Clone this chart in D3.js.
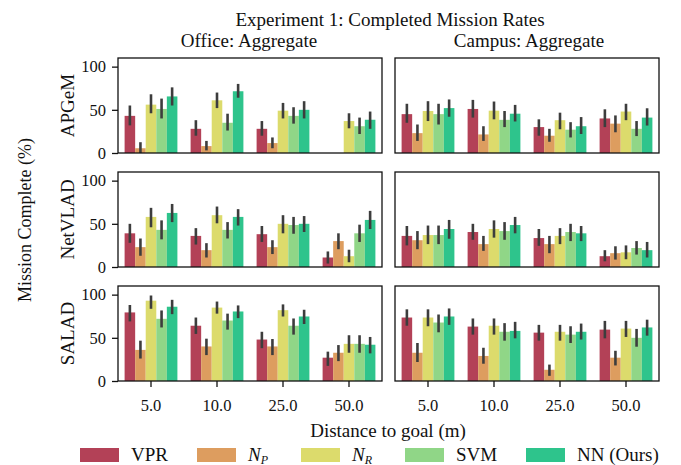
<!DOCTYPE html>
<html><head><meta charset="utf-8">
<script src="https://cdn.jsdelivr.net/npm/d3@7"></script>
<style>body{margin:0;background:#fff}svg{display:block}text{font-family:"Liberation Serif","DejaVu Serif",serif;fill:#111}</style>
</head><body><svg id="c" width="681" height="465"></svg>
<script>
const categories = ["5.0","10.0","25.0","50.0"];
const seriesNames = ["VPR","N_P","N_R","SVM","NN (Ours)"];
const seriesColors = ["#b34157","#dd9d5f","#dcdb6c","#90d687","#2ec48c"];
const rowLabels = ["APGeM","NetVLAD","SALAD"];
const colLabels = ["Office: Aggregate","Campus: Aggregate"];
const yTicks = [0,50,100];

// each array: one row per series (VPR, N_P, N_R, SVM, NN), one value per category
const apgemOfficeMean = [[43,28,28,0],[5.5,8,11.5,0],[56,61,49,37],[51,35,43,31],[65.5,71.5,50,38.5]];
const apgemOfficeLo   = [[32,20,20,0],[0,3,5.5,0],[46,52,40,28.6],[40,26,34,22],[55,64,40,28]];
const apgemOfficeHi   = [[55,38,37,0],[12.5,14,18,0],[68,70,58,46],[63,45.5,53,41],[76,80,60,48]];

const apgemCampusMean = [[45,51,30,40],[23,21.5,20,34],[48.6,49,38,48],[45,38.4,27,28],[52,45.5,31,41]];
const apgemCampusLo   = [[35,41,20,30],[14,14,13,24],[37,39,27.5,38],[33,30,18,19.6],[42,36.5,22,31.8]];
const apgemCampusHi   = [[57,61.5,39,50.6],[33,31,28,43.5],[60,59.6,46.7,57],[57,48.6,35.7,37],[62,55.7,41.6,51.8]];

const netvladOfficeMean = [[39,36,38,11],[23,19.5,23,30],[58,60,50,12.5],[43,43,48.6,39],[62.6,58,50,54.5]];
const netvladOfficeLo   = [[28,26,29,4],[13,11,15,20.6],[46,50.6,39,5.5],[32,33,38.5,29],[52,48,40.5,44]];
const netvladOfficeHi   = [[50,45,47.5,18],[33,27.6,31,39],[68.5,70,60,20],[54,52,58,49],[73,67,59,65]];

const netvladCampusMean = [[36,40.5,33.5,12.5],[31,26.5,26.5,16],[37,44,36,17],[37,41.6,40.5,22],[44,48.6,39,19.5]];
const netvladCampusLo   = [[25,31.5,24.5,6.6],[20.6,18.7,16,8.6],[26.5,34,26.5,9],[26.5,31.5,30,14.4],[32.7,39,30,11]];
const netvladCampusHi   = [[47.5,50,44,19.5],[41.6,36,36,24],[48,54,45,25],[48,52,50,30],[54.5,58,47.5,29]];

const saladOfficeMean = [[79.4,64,48,27],[36,40,40,32.7],[93,85,82,43],[72,70,64,43],[86,80.5,74.7,42]];
const saladOfficeLo   = [[69,54.5,38,17.5],[26,30,30,23],[83.6,78,74.7,32.7],[62,59.5,53.7,32.7],[77.4,72.8,66,32]];
const saladOfficeHi   = [[88,73.5,57,34],[46.7,49,48.6,41.6],[99,92,88.7,53],[81.7,78,72.4,53],[94,87.5,82.5,51]];

const saladCampusMean = [[73.5,63,56,59.5],[32.7,29,13,27],[73.5,64,57,60.7],[67.7,57,53.7,50],[74.7,58,57,62]];
const saladCampusLo   = [[64,53.7,46.7,49.4],[22,20,6,18],[63.4,53.7,46.7,51],[56.4,46.7,44,39.7],[65,49.4,48,52.5]];
const saladCampusHi   = [[83,72.4,65,69.6],[44,38.5,19,35],[83,72.4,65,69.6],[77,67,63.4,60.3],[84,68.5,66.5,71]];

const panels = [
  [[apgemOfficeMean,apgemOfficeLo,apgemOfficeHi],[apgemCampusMean,apgemCampusLo,apgemCampusHi]],
  [[netvladOfficeMean,netvladOfficeLo,netvladOfficeHi],[netvladCampusMean,netvladCampusLo,netvladCampusHi]],
  [[saladOfficeMean,saladOfficeLo,saladOfficeHi],[saladCampusMean,saladCampusLo,saladCampusHi]]
];

const svg = d3.select("#c");
const colX = [118, 395], panelW = 264;
const rowY = [58, 172, 286], panelH = 95;
const y = d3.scaleLinear().domain([0,110]).range([panelH,0]);
const x = d3.scaleBand().domain(categories).range([0,panelW]).paddingInner(0).paddingOuter(0);
const xs = d3.scaleBand().domain(d3.range(seriesNames.length)).range([x.bandwidth()*0.1, x.bandwidth()*0.9]).padding(0);

panels.forEach((row, ri) => {
  row.forEach((pd, ci) => {
    const [mean, lo, hi] = pd;
    const g = svg.append("g").attr("transform", `translate(${colX[ci]},${rowY[ri]})`);
    seriesNames.forEach((s, si) => {
      categories.forEach((c, k) => {
        const v = mean[si][k];
        if (v > 0) {
          g.append("rect").attr("x", x(c)+xs(si)).attr("width", xs.bandwidth())
            .attr("y", y(v)).attr("height", y(0)-y(v)).attr("fill", seriesColors[si]);
        }
      });
    });
    seriesNames.forEach((s, si) => {
      categories.forEach((c, k) => {
        if (hi[si][k] > lo[si][k]) {
          const cx = x(c)+xs(si)+xs.bandwidth()/2;
          g.append("line").attr("x1",cx).attr("x2",cx).attr("y1",y(lo[si][k])).attr("y2",y(hi[si][k]))
            .attr("stroke","#3d3d3d").attr("stroke-width",2.6);
        }
      });
    });
    g.append("rect").attr("x",0).attr("y",0).attr("width",panelW).attr("height",panelH)
      .attr("fill","none").attr("stroke","#111").attr("stroke-width",1.3);
    if (ci === 0) {
      const ya = g.append("g").call(d3.axisLeft(y).tickValues(yTicks).tickSize(6).tickPadding(6).tickSizeOuter(0));
      ya.select(".domain").remove();
      ya.selectAll("line").attr("stroke","#111").attr("stroke-width",1.3);
      ya.selectAll("text").attr("font-size","16.5px").attr("font-family","Liberation Serif").attr("fill","#111");
    }
    if (ri === 2) {
      const xa = g.append("g").attr("transform",`translate(0,${panelH})`)
        .call(d3.axisBottom(x).tickSize(6).tickPadding(12).tickSizeOuter(0));
      xa.select(".domain").remove();
      xa.selectAll("line").attr("stroke","#111").attr("stroke-width",1.3);
      xa.selectAll("text").attr("font-size","16.5px").attr("font-family","Liberation Serif").attr("fill","#111");
    }
    if (ri === 0) {
      svg.append("text").attr("x", colX[ci]+panelW/2 - (ci===0?1:-2)).attr("y", 47).attr("text-anchor","middle")
        .attr("font-size","19px").text(colLabels[ci]);
    }
  });
  svg.append("text").attr("transform",`translate(74,${rowY[ri]+panelH/2}) rotate(-90)`)
    .attr("text-anchor","middle").attr("font-size","19px").text(rowLabels[ri]);
});

svg.append("text").attr("x",390).attr("y",26).attr("text-anchor","middle").attr("font-size","19px")
  .text("Experiment 1: Completed Mission Rates");
svg.append("text").attr("transform",`translate(31,220) rotate(-90)`).attr("text-anchor","middle")
  .attr("font-size","18px").text("Mission Complete (%)");
svg.append("text").attr("x",388).attr("y",437).attr("text-anchor","middle").attr("font-size","19px")
  .text("Distance to goal (m)");

// legend
const legX = [80, 197, 301, 405, 526];
const lg = svg.append("g");
seriesNames.forEach((s, i) => {
  lg.append("rect").attr("x", legX[i]).attr("y", 448).attr("width", 39).attr("height", 14).attr("fill", seriesColors[i]);
  const t = lg.append("text").attr("x", legX[i]+51).attr("y", 461).attr("font-size","19px");
  if (s.startsWith("N_")) {
    t.append("tspan").attr("font-style","italic").text("N");
    t.append("tspan").attr("font-style","italic").attr("font-size","12px").attr("dy",2.5).text(s.slice(2));
  } else {
    t.text(s);
  }
});
</script></body></html>
